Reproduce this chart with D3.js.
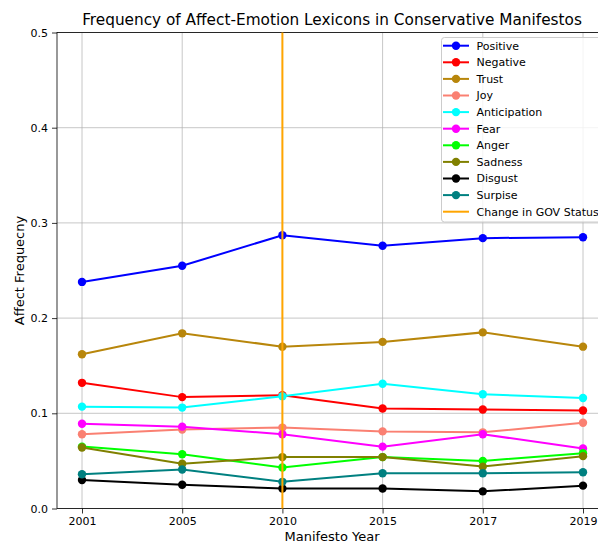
<!DOCTYPE html>
<html><head><meta charset="utf-8">
<script src="https://cdn.jsdelivr.net/npm/d3@7"></script>
<style>body{margin:0;background:#fff;} svg{display:block;font-family:"DejaVu Sans",sans-serif;}</style>
</head><body>
<svg id="c" width="598" height="544"></svg>
<script>
const years = ["2001","2005","2010","2015","2017","2019"];
const positive     = [0.238,0.255,0.287,0.276,0.284,0.285];
const negative     = [0.132,0.117,0.119,0.105,0.104,0.103];
const trust        = [0.162,0.184,0.170,0.175,0.185,0.170];
const joy          = [0.078,0.083,0.085,0.081,0.080,0.090];
const anticipation = [0.107,0.106,0.118,0.131,0.120,0.116];
const fear         = [0.089,0.086,0.078,0.065,0.078,0.063];
const anger        = [0.065,0.057,0.043,0.054,0.050,0.058];
const sadness      = [0.064,0.047,0.054,0.054,0.044,0.055];
const disgust      = [0.030,0.025,0.021,0.021,0.018,0.024];
const surprise     = [0.036,0.041,0.028,0.037,0.037,0.038];
const yTicks = [0,0.1,0.2,0.3,0.4,0.5];
const govChangeYear = "2010";

const series = [
  {name:"Positive", values:positive, color:"#0000ff"},
  {name:"Negative", values:negative, color:"#ff0000"},
  {name:"Trust", values:trust, color:"#b8860b"},
  {name:"Joy", values:joy, color:"#fa8072"},
  {name:"Anticipation", values:anticipation, color:"#00ffff"},
  {name:"Fear", values:fear, color:"#ff00ff"},
  {name:"Anger", values:anger, color:"#00ff00"},
  {name:"Sadness", values:sadness, color:"#808000"},
  {name:"Disgust", values:disgust, color:"#000000"},
  {name:"Surpise", values:surprise, color:"#008080"}
];

const svg = d3.select("#c");
const L = 57, R = 608, T = 32.5, B = 508.5;
const x = d3.scalePoint().domain(years).range([82, 583]);
const y = d3.scaleLinear().domain([0,0.5]).range([B, T]);

// grid
const g = svg.append("g");
g.selectAll(".vg").data(years).join("line")
  .attr("x1", d=>x(d)).attr("x2", d=>x(d)).attr("y1", T).attr("y2", B)
  .attr("stroke", "#b0b0b0").attr("stroke-width", 1).attr("opacity", 0.7);
g.selectAll(".hg").data(yTicks).join("line")
  .attr("x1", L).attr("x2", R).attr("y1", d=>y(d)).attr("y2", d=>y(d))
  .attr("stroke", "#b0b0b0").attr("stroke-width", 1).attr("opacity", 0.7);

// axes
const xa = svg.append("g").attr("transform", `translate(0,${B})`)
  .call(d3.axisBottom(x).tickSize(5).tickPadding(4));
const ya = svg.append("g").attr("transform", `translate(${L},0)`)
  .call(d3.axisLeft(y).tickValues(yTicks).tickFormat(d3.format(".1f")).tickSize(5).tickPadding(4));
[xa, ya].forEach(a => {
  a.select(".domain").remove();
  a.selectAll("text").attr("font-size", 11).attr("fill", "#000").attr("font-family", "DejaVu Sans");
  a.selectAll("line").attr("stroke", "#000").attr("stroke-width", 0.8);
});
// spines
svg.append("rect").attr("x", L).attr("y", T).attr("width", R - L).attr("height", B - T)
  .attr("fill", "none").attr("stroke", "#000").attr("stroke-width", 0.8);

// lines
const line = d3.line().x((d,i)=>x(years[i])).y(d=>y(d));
series.forEach(s => {
  svg.append("path").datum(s.values).attr("d", line)
    .attr("fill", "none").attr("stroke", s.color).attr("stroke-width", 2);
  svg.selectAll(null).data(s.values).join("circle")
    .attr("cx", (d,i)=>x(years[i])).attr("cy", d=>y(d)).attr("r", 4.2).attr("fill", s.color);
});

// gov change line
svg.append("line").attr("x1", x(govChangeYear)).attr("x2", x(govChangeYear))
  .attr("y1", T).attr("y2", B).attr("stroke", "#ffa500").attr("stroke-width", 2);

// legend
const lg = svg.append("g");
lg.append("rect").attr("x", 441.5).attr("y", 37.5).attr("width", 170).attr("height", 184.5)
  .attr("rx", 3).attr("fill", "#fff").attr("fill-opacity", 0.8).attr("stroke", "#cccccc").attr("stroke-width", 1);
const entries = series.map(s => ({name:s.name, color:s.color, marker:true}))
  .concat([{name:"Change in GOV Status", color:"#ffa500", marker:false}]);
entries.forEach((e, i) => {
  const yy = 45.7 + i * 16.6;
  lg.append("line").attr("x1", 443).attr("x2", 469).attr("y1", yy).attr("y2", yy)
    .attr("stroke", e.color).attr("stroke-width", 2);
  if (e.marker) lg.append("circle").attr("cx", 456).attr("cy", yy).attr("r", 4.2).attr("fill", e.color);
  lg.append("text").attr("x", 476.5).attr("y", yy).attr("dy", "0.36em")
    .attr("font-size", 11).attr("fill", "#000").text(e.name);
});

// titles
svg.append("text").attr("x", 332).attr("y", 25).attr("text-anchor", "middle")
  .attr("font-size", 15.3).attr("fill", "#000").text("Frequency of Affect-Emotion Lexicons in Conservative Manifestos");
svg.append("text").attr("x", 332).attr("y", 541).attr("text-anchor", "middle")
  .attr("font-size", 13).attr("fill", "#000").text("Manifesto Year");
svg.append("text").attr("transform", `translate(24,${(T+B)/2}) rotate(-90)`).attr("text-anchor", "middle")
  .attr("font-size", 13).attr("fill", "#000").text("Affect Frequecny");
</script>
</body></html>
